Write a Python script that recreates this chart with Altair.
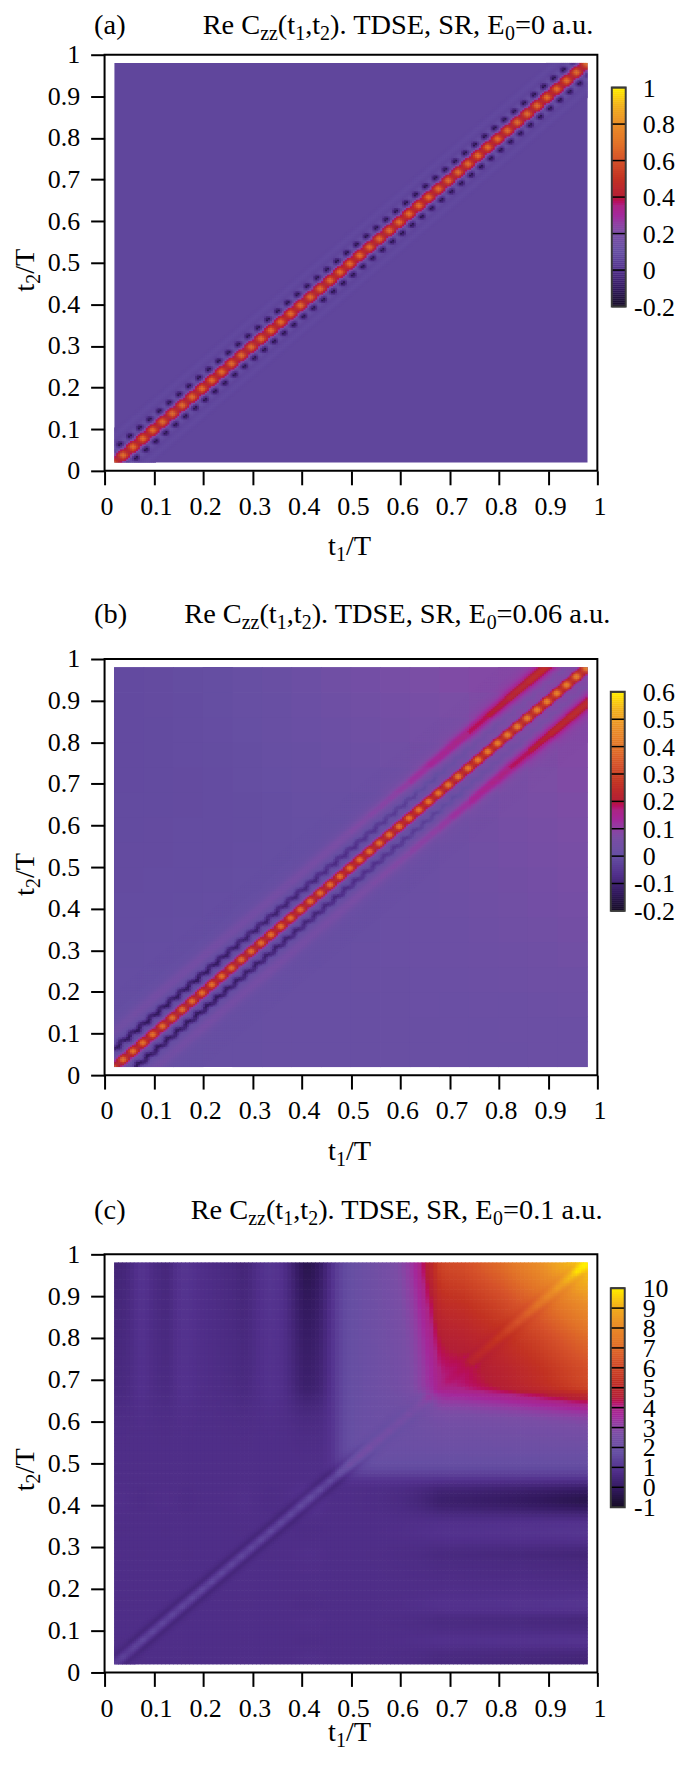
import altair as alt

FONT = "Liberation Serif"
W = 495
X0 = 103.5
TICKS = [0, 0.1, 0.2, 0.3, 0.4, 0.5, 0.6, 0.7, 0.8, 0.9, 1]
STOPS = ["#170a26", "#33195f", "#52308c", "#664fa3", "#7a4ea5", "#a4289b", "#ab2585", "#b31f35",
         "#c23222", "#d5512a", "#e27428", "#ea8e28", "#f1b01c", "#fff000"]
STOP_AT = [0, 1/12, 2/12, 3/12, 4/12, 5/12, 0.46, 6/12, 7/12, 8/12, 9/12, 10/12, 11/12, 1]

# ---- panel (a): flat level, and the repeating bead pattern round the diagonal
a_base = 0.07
# rows: |t1-t2| in cells; columns: phase along the diagonal, from a bead to mid-way
a_tile = [
    [0.69, 0.64, 0.58, 0.51, 0.46, 0.45],
    [0.67, 0.65, 0.58, 0.51, 0.46, 0.44],
    [0.60, 0.57, 0.54, 0.48, 0.43, 0.41],
    [0.50, 0.50, 0.46, 0.45, 0.38, 0.38],
    [0.38, 0.33, 0.38, 0.28, 0.25, 0.20],
    [0.24, 0.22, 0.22, 0.20, 0.14, 0.12],
    [0.10, 0.10, 0.07, 0.06, 0.02, 0.00],
    [0.09, 0.08, 0.04, 0.00, -0.02, -0.03],
    [0.10, 0.09, 0.03, -0.02, -0.13, -0.08],
    [0.10, 0.09, 0.06, -0.02, -0.05, -0.08],
    [0.09, 0.09, 0.07, 0.05, -0.03, 0.00],
    [0.08, 0.08, 0.08, 0.07, 0.03, 0.03],
    [0.07, 0.07, 0.07, 0.07, 0.06, 0.06],
]
a_side = [0.07, 0.072, 0.076, 0.082, 0.085, 0.082, 0.076, 0.072, 0.07]

# ---- panel (b): smooth background on a 16 x 16 lattice, t2 rising row by row
b_background = [
    [0, 0, 0, .002, .004, .005, .006, .007, .008, .01, .011, .012, .013, .014, .015, .016],
    [-.002, 0, 0, .002, .004, .005, .006, .007, .008, .01, .011, .012, .014, .015, .016, .018],
    [-.003, -.002, 0, .001, .003, .005, .006, .007, .008, .01, .012, .014, .016, .018, .02, .022],
    [-.004, -.003, -.002, 0, .002, .004, .005, .007, .009, .011, .013, .016, .019, .022, .025, .028],
    [-.005, -.004, -.003, -.002, 0, .002, .004, .006, .009, .012, .015, .019, .023, .027, .031, .035],
    [-.006, -.005, -.004, -.003, -.001, 0, .003, .005, .008, .012, .016, .021, .026, .032, .037, .042],
    [-.007, -.006, -.005, -.004, -.002, -.001, .001, .004, .007, .012, .017, .023, .03, .036, .043, .05],
    [-.008, -.007, -.006, -.005, -.003, -.002, 0, .002, .006, .011, .018, .025, .033, .04, .048, .056],
    [-.008, -.008, -.007, -.006, -.004, -.002, -.001, .001, .005, .01, .018, .027, .036, .045, .053, .06],
    [-.009, -.008, -.007, -.006, -.005, -.003, 0, .002, .006, .012, .02, .03, .04, .05, .058, .065],
    [-.009, -.009, -.008, -.007, -.005, -.002, .002, .006, .01, .016, .024, .034, .045, .055, .063, .07],
    [-.01, -.009, -.008, -.006, -.003, 0, .005, .01, .016, .024, .033, .042, .052, .06, .068, .075],
    [-.01, -.009, -.007, -.005, -.002, .002, .008, .015, .023, .032, .042, .05, .06, .066, .072, .078],
    [-.01, -.009, -.007, -.004, 0, .005, .012, .02, .03, .04, .05, .058, .066, .072, .077, .08],
    [-.01, -.008, -.006, -.003, .002, .008, .016, .026, .037, .048, .058, .066, .073, .078, .08, .08],
    [-.01, -.008, -.005, -.002, .004, .011, .02, .032, .044, .056, .066, .075, .08, .083, .083, .08],
]
b_tile = [
    [0.40, 0.37, 0.33, 0.28, 0.24, 0.22],
    [0.38, 0.37, 0.31, 0.26, 0.23, 0.22],
    [0.33, 0.30, 0.28, 0.24, 0.20, 0.19],
    [0.25, 0.24, 0.23, 0.21, 0.18, 0.17],
    [0.15, 0.14, 0.13, 0.12, 0.10, 0.09],
    [0.06, 0.06, 0.05, 0.04, 0.03, 0.03],
]
b_dark = [0, 0, 0, 0, 0, 0, 0, -0.01, -0.03, -0.07, -0.11, -0.13, -0.11, -0.07, -0.03, -0.01,
          0, 0, 0, 0, 0, 0, 0, 0, 0, 0, 0, 0, 0, 0, 0, 0, 0, 0, 0, 0, 0, 0, 0,
          0, 0, 0, 0, 0, 0, 0, 0, 0]
b_dark_amp = [1, 1, 1, 1, 1, 0.95, 0.9, 0.85, 0.8, 0.75, 0.7, 0.6, 0.55, 0.5, 0.45, 0.4, 0.32,
              0.25, 0.2, 0.17, 0.14, 0.12, 0.1, 0.1]
b_dark_phase = [0.85, 0.9, 1.0, 1.0, 1.05, 1.1]
b_ridge = [0, 0, 0, 0, 0, 0, 0, 0, 0, 0, 0, 0.01, 0.03, 0.06, 0.10, 0.16, 0.26, 0.40, 0.60,
           0.82, 0.96, 1.0, 1.0, 0.90, 0.74, 0.56, 0.40, 0.28, 0.20, 0.14, 0.10, 0.07, 0.05,
           0.03, 0.02, 0.01, 0, 0, 0, 0, 0, 0, 0, 0, 0, 0, 0, 0]
b_ridge_amp = [0.04, 0.04, 0.045, 0.05, 0.05, 0.05, 0.05, 0.05, 0.05, 0.05, 0.055, 0.06, 0.065,
               0.07, 0.075, 0.08, 0.09, 0.10, 0.11, 0.12, 0.13, 0.15, 0.165, 0.18]
b_wiggle = [-1, -1, 0, 0, 1, 1]

# ---- panel (c): one profile along t, read from the right and top edges
c_level = 0.75
c_profile = [-0.12, -0.11, -0.10, -0.07, -0.03, 0.02, 0.06, 0.06, 0.03, -0.01, -0.04, -0.06,
             -0.08, -0.08, -0.04, 0.01, 0.05, 0.08, 0.08, 0.06, 0.04, 0.02, 0.01, 0.0, -0.01,
             -0.02, -0.03, -0.04, -0.05, -0.06, -0.07, -0.09, -0.11, -0.10, -0.07, -0.03, 0.01,
             0.04, 0.07, 0.09, 0.08, 0.06, 0.03, -0.02, -0.09, -0.17, -0.26, -0.33, -0.38,
             -0.38, -0.35, -0.30, -0.23, -0.15, -0.08, -0.03, 0.0, 0.0, 0.0, 0.0, 0.01, 0.02,
             0.03, 0.05, 0.06, 0.08, 0.10, 0.13, 0.16, 0.19, 0.23, 0.27, 0.31, 0.37, 0.44,
             0.52, 0.62, 0.73, 0.84, 0.97, 1.08, 1.25, 1.38, 1.44, 1.47, 1.49, 1.50, 1.52,
             1.53, 1.56, 1.59, 1.62, 1.65, 1.68, 1.71, 1.74, 1.77, 1.80, 1.84, 1.88, 1.92,
             1.96, 2.0, 2.04, 2.08, 2.12, 2.16, 2.2, 2.25, 2.3, 2.35, 2.4, 2.45, 2.5, 2.55,
             2.6, 2.65, 2.7, 2.74, 2.78]
c_step = [0.0] * 53 + [0.05, 0.12, 0.25, 0.45, 0.62, 0.76, 0.85, 0.92, 0.97, 1.01, 1.05, 1.07,
                       1.09] + [1.10] * 54
c_ridge = [0.9, 0.8, 0.55, 0.2, -0.1, -0.3, -0.3, -0.2, -0.1, -0.05, 0.0]
c_ridge_amp = [0.6, 0.8, 0.8, 0.8, 0.8, 0.8, 0.8, 0.8, 0.8, 0.8, 0.8, 0.8, 0.7, 0.5, 0.4, 0.25,
               0.05, 0.05, 0.35, 0.4, 0.45, 0.5, 0.55, 0.6]
c_bead = [1.15, 1.1, 1.0, 0.9, 0.85, 0.85]

# ---- text metrics of the serif face, em units
EM = {"R": .667, "e": .444, " ": .25, "C": .667, "z": .444, "(": .333, ")": .333, "t": .278,
      "1": .5, "2": .5, "0": .5, "6": .5, ",": .25, ".": .25, "T": .611, "D": .722, "S": .556,
      "E": .611, "=": .564, "a": .444, "u": .5, "/": .278}
BIG = 28.5
SMALL = 20
CB_LABEL_X = 644


def width_of(s, size):
    return sum(EM[c] for c in s) * size


def cell_t(i):
    return 0.022 + 0.004 * i


def phase(i, j):
    p = (i + j - 8) % 10
    return min(p, 10 - p)


def rows_a():
    out = []
    for i in range(240):
        for j in range(240):
            d = abs(i - j)
            if d > 20:
                continue
            p = phase(i, j)
            v = a_tile[d][p] if d < len(a_tile) else a_side[d - 12]
            out.append({"x": round(cell_t(i), 4), "y": round(cell_t(j), 4), "v": round(v, 3)})
    return out


def rows_b():
    out = []
    for i in range(240):
        for j in range(240):
            d = abs(i - j)
            if d > 44:
                continue
            p = phase(i, j)
            tier = (i + j) // 20
            bg = b_background[j // 15][i // 15]
            if d < len(b_tile):
                v = b_tile[d][p] + bg * 0.5
            else:
                k = d + b_wiggle[p]
                v = bg + b_dark[k] * b_dark_amp[tier] * b_dark_phase[p] + b_ridge[d] * b_ridge_amp[tier]
            out.append({"x": round(cell_t(i), 4), "y": round(cell_t(j), 4), "v": round(v, 3)})
    return out


def c_value(ci, cj):
    return c_level + c_profile[ci] * c_profile[cj] + c_step[ci] * c_step[cj]


def rows_c_coarse():
    return [{"x": round(0.024 + 0.008 * i, 4), "y": round(0.024 + 0.008 * j, 4),
             "v": round(c_value(i, j), 3)} for i in range(120) for j in range(120)]


def rows_c_fine():
    out = []
    for i in range(240):
        for j in range(240):
            d = abs(i - j)
            if d >= len(c_ridge):
                continue
            p = phase(i, j)
            tier = (i + j) // 20
            dv = c_ridge[d] * c_ridge_amp[tier] * (c_bead[p] if c_ridge[d] > 0 else 1)
            v = c_value(i // 2, j // 2) + dv
            out.append({"x": round(cell_t(i), 4), "y": round(cell_t(j), 4), "v": round(v, 3)})
    return out


def rows_b_bg():
    return [{"x": 0.05 + 0.06 * i, "y": 0.05 + 0.06 * j, "v": b_background[j][i]}
            for i in range(16) for j in range(16)]


def panel(letter, title, title_x, top, H, lo, hi, cb_ticks, cb_top, cb_x, rows_coarse, coarse_size,
          rows_fine, anchor_top, anchor_bottom, title_base, xtitle_base):
    tx = lambda px: (px - X0) / W
    ty = lambda py: 1 - (py - top) / H
    xs = alt.Scale(domain=[0, 1], nice=False, zero=False)
    ys = alt.Scale(domain=[0, 1], nice=False, zero=False)
    dom = [lo + k * (hi - lo) for k in STOP_AT]
    cs = alt.Scale(domain=dom, range=STOPS, clamp=True)
    axx = alt.Axis(values=TICKS, format="~g", grid=False, domain=False, tickSize=14, tickWidth=2,
                   tickColor="black", labelColor="black", labelFont=FONT, labelFontSize=26,
                   labelPadding=9, labelFlush=False, labelOverlap=False, labelOffset=2)
    axy = alt.Axis(values=TICKS, format="~g", grid=False, domain=False, tickSize=14, tickWidth=2,
                   tickColor="black", labelColor="black", labelFont=FONT, labelFontSize=26,
                   labelPadding=11, labelFlush=False, labelOverlap=False)
    X = lambda: alt.X("x:Q", title=None, scale=xs)
    Y = lambda: alt.Y("y:Q", title=None, scale=ys)
    C = alt.Color("v:Q", scale=cs, legend=None)

    cw, ch = coarse_size
    layers = [
        alt.Chart(alt.Data(values=rows_coarse)).mark_rect(width=cw, height=ch).encode(
            x=alt.X("x:Q", title=None, scale=xs, axis=axx),
            y=alt.Y("y:Q", title=None, scale=ys, axis=axy), color=C),
    ]
    if rows_fine:
        layers.append(alt.Chart(alt.Data(values=rows_fine)).mark_rect(width=2.3, height=2.0).encode(x=X(), y=Y(), color=C))

    # colour bar
    cb_len = 220
    n = 110
    bar = []
    for k in range(n):
        py1 = cb_top + cb_len - k * cb_len / n
        py2 = py1 - cb_len / n - 0.4
        bar.append({"x": tx(cb_x), "x2": tx(cb_x + 14), "y": ty(py1), "y2": ty(py2),
                    "v": lo + (k + 0.5) * (hi - lo) / n})
    layers.append(alt.Chart(alt.Data(values=bar)).mark_rect().encode(
        x=X(), x2="x2:Q", y=Y(), y2="y2:Q", color=C))
    vy = lambda v: cb_top + cb_len * (hi - v) / (hi - lo)
    rules = [{"x": tx(cb_x), "x2": tx(cb_x + 14), "y": ty(vy(v))} for v in cb_ticks]
    layers.append(alt.Chart(alt.Data(values=rules)).mark_rule(color="black", strokeWidth=1.5).encode(
        x=X(), x2="x2:Q", y=Y()))
    box = [{"x": tx(cb_x), "x2": tx(cb_x + 14), "y": ty(cb_top), "y2": ty(cb_top + cb_len)}]
    layers.append(alt.Chart(alt.Data(values=box)).mark_rect(fillOpacity=0, stroke="#3a3a3a", strokeWidth=2).encode(
        x=X(), x2="x2:Q", y=Y(), y2="y2:Q"))

    # all free text
    txt = []

    def put(s, px, py, size=BIG, angle=0):
        txt.append({"x": tx(px), "y": ty(py), "s": s, "z": size, "a": angle})

    put(f"({letter})", 93, title_base)
    px = title_x
    for s, small in title:
        put(s, px, title_base + (6 if small else 0), SMALL if small else BIG)
        px += width_of(s, SMALL if small else BIG)
    # x title
    px = 328
    for s, small in [("t", 0), ("1", 1), ("/T", 0)]:
        put(s, px, xtitle_base + (6 if small else 0), SMALL if small else BIG)
        px += width_of(s, SMALL if small else BIG)
    # y title, turned
    py = top + 238
    for s, small in [("t", 0), ("2", 1), ("/T", 0)]:
        put(s, 33 + (6 if small else 0), py, SMALL if small else BIG, 270)
        py -= width_of(s, SMALL if small else BIG)
    # colour bar labels
    for v in cb_ticks:
        lab = f"{v:g}"
        put(lab, CB_LABEL_X - (8.6 if v < 0 else 0), vy(v) + 9, 26)
    layers.append(alt.Chart(alt.Data(values=txt)).mark_text(
        align="left", baseline="alphabetic", font=FONT, color="black").encode(
        x=X(), y=Y(), text="s:N", size=alt.Size("z:Q", scale=None),
        angle=alt.Angle("a:Q", scale=None)))

    anchors = [{"x": tx(4), "y": ty(anchor_top)}, {"x": tx(676), "y": ty(anchor_bottom)}]
    layers.append(alt.Chart(alt.Data(values=anchors)).mark_point(size=1, opacity=0, filled=True).encode(x=X(), y=Y()))

    return alt.layer(*layers).properties(width=W, height=H)


def title_for(e):
    return [("Re C", 0), ("zz", 1), ("(t", 0), ("1", 1), (",t", 0), ("2", 1), ("). TDSE, SR, E", 0),
            ("0", 1), (f"={e} a.u.", 0)]


a_bg = [{"x": 0.5, "y": 0.5, "v": a_base}]
chart_a = panel("a", title_for("0"), 202, 54, 418, -0.2, 1,
                [-0.2, 0, 0.2, 0.4, 0.6, 0.8, 1], 87, 613,
                a_bg, (475.2, 401.3), rows_a(), 0, 599, 33, 557)
chart_b = panel("b", title_for("0.06"), 183.5, 657, 418, -0.2, 0.6,
                [-0.2, -0.1, 0, 0.1, 0.2, 0.3, 0.4, 0.5, 0.6], 690, 612,
                rows_b_bg(), (30.5, 25.6), rows_b(), 600, 1194, 621, 1160)
chart_c = panel("c", title_for("0.1"), 190, 1252, 420, -1, 10,
                [-1, 0, 1, 2, 3, 4, 5, 6, 7, 8, 9, 10], 1286, 612,
                rows_c_coarse(), (4.7, 4.0), rows_c_fine(), 1195, 1754, 1217, 1741)

chart = alt.vconcat(chart_a, chart_b, chart_c, spacing=0).resolve_scale(color="independent").properties(
    padding={"left": -4, "top": -13, "right": 0, "bottom": 0}
).configure_view(stroke="black", strokeWidth=2)

chart.save("out.html", embed_options={"renderer": "svg", "actions": False})
